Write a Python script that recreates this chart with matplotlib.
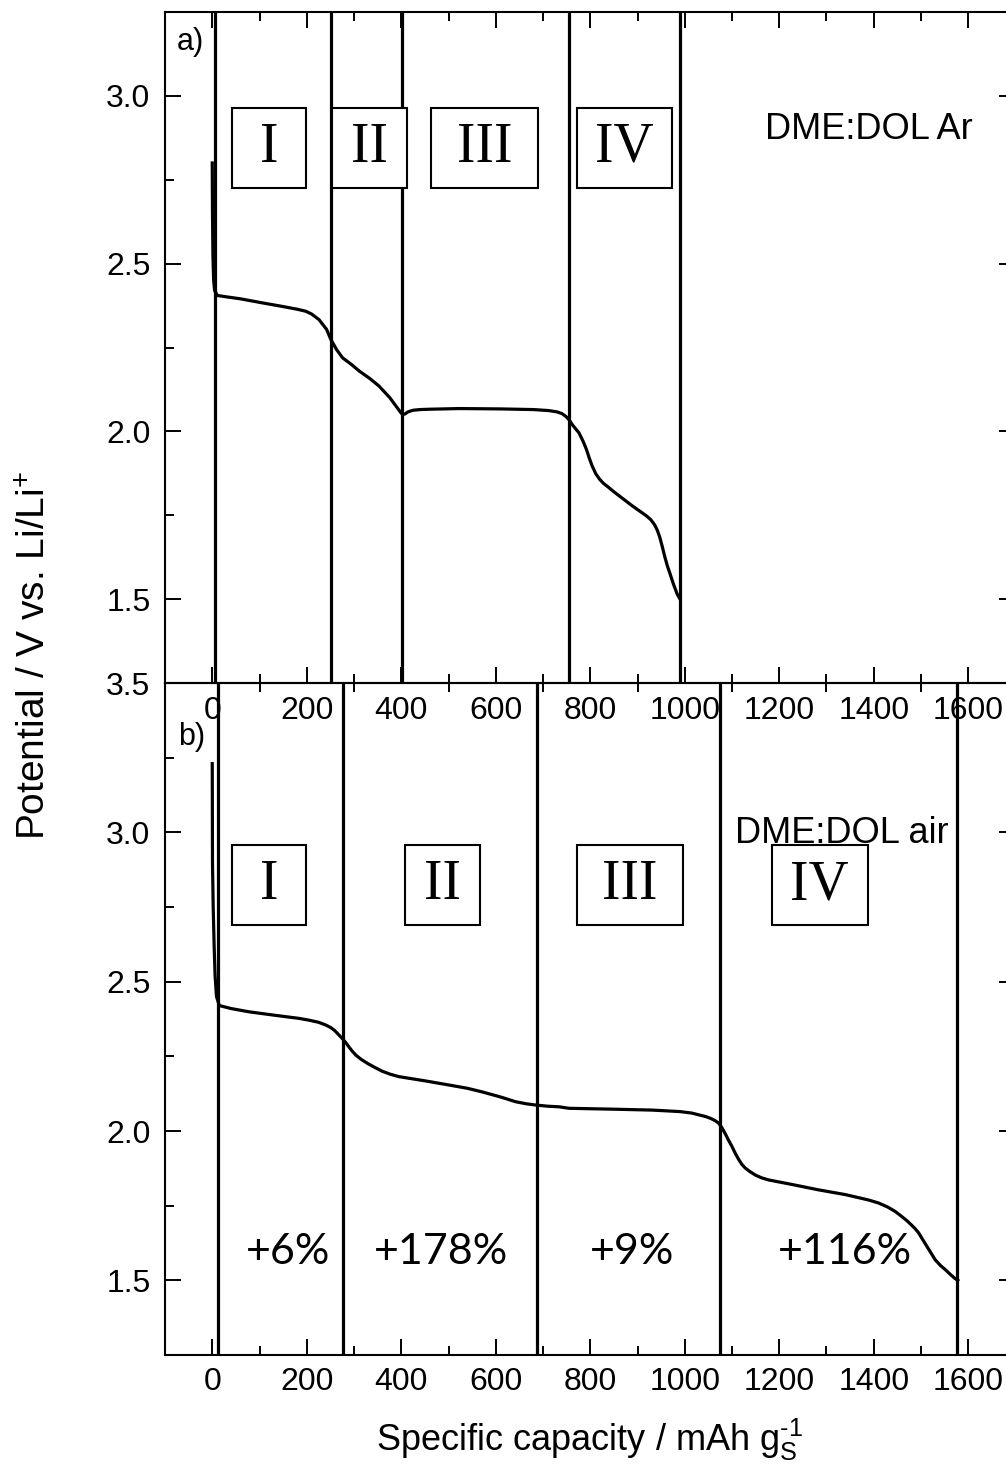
import matplotlib
matplotlib.use("Agg")
import matplotlib.pyplot as plt
from matplotlib.ticker import MultipleLocator, FormatStrFormatter
from matplotlib.patches import Rectangle

# Discharge curve, DME:DOL under Ar (capacity in mAh/g, potential in V)
cap_ar = [0, 0.5, 1.5, 3, 5, 11, 30, 60, 106, 150, 180, 198, 210, 226, 242, 251,
          263, 276, 295, 311, 334, 353, 376, 399, 403, 408, 414, 425, 440, 459,
          522, 607, 680, 712, 730, 740, 748, 755, 762, 770, 776, 785, 792, 798,
          804, 812, 820, 828, 838, 850, 862, 875, 889, 905, 919, 928, 936, 942,
          947, 952, 958, 963, 969, 976, 984, 990]
pot_ar = [2.80, 2.65, 2.52, 2.45, 2.42, 2.405, 2.401, 2.395, 2.383, 2.372, 2.364,
          2.358, 2.350, 2.333, 2.304, 2.274, 2.244, 2.219, 2.199, 2.180, 2.157,
          2.135, 2.100, 2.056, 2.050, 2.052, 2.058, 2.063, 2.065, 2.066, 2.068,
          2.067, 2.065, 2.062, 2.058, 2.053, 2.045, 2.035, 2.020, 2.006, 1.996,
          1.970, 1.946, 1.920, 1.897, 1.873, 1.857, 1.845, 1.834, 1.820, 1.807,
          1.793, 1.778, 1.762, 1.748, 1.737, 1.722, 1.705, 1.685, 1.659, 1.625,
          1.600, 1.575, 1.545, 1.515, 1.500]

# Discharge curve, DME:DOL under air
cap_air = [0, 0.5, 2, 4, 6, 9, 15, 40, 78, 130, 184, 205, 225, 240, 250, 258, 266,
           275, 283, 290, 297, 304, 315, 330, 345, 360, 377, 395, 450, 501, 540,
           571, 610, 642, 665, 684, 710, 734, 755, 850, 931, 990, 1015, 1030, 1045,
           1055, 1064, 1072, 1079, 1086, 1093, 1100, 1107, 1114, 1121, 1128, 1138,
           1150, 1163, 1178, 1230, 1283, 1340, 1389, 1410, 1430, 1446, 1459, 1470,
           1478, 1487, 1495, 1503, 1512, 1521, 1530, 1541, 1552, 1562, 1572, 1578]
pot_air = [3.23, 2.90, 2.75, 2.62, 2.52, 2.45, 2.42, 2.41, 2.399, 2.388, 2.377,
           2.371, 2.364, 2.355, 2.347, 2.338, 2.325, 2.310, 2.295, 2.280, 2.266,
           2.254, 2.240, 2.225, 2.212, 2.200, 2.190, 2.182, 2.168, 2.154, 2.143,
           2.131, 2.114, 2.098, 2.091, 2.087, 2.083, 2.081, 2.076, 2.073, 2.070,
           2.065, 2.060, 2.054, 2.048, 2.042, 2.035, 2.026, 2.010, 1.990, 1.968,
           1.948, 1.925, 1.905, 1.888, 1.876, 1.864, 1.852, 1.843, 1.836, 1.820,
           1.803, 1.787, 1.769, 1.759, 1.745, 1.730, 1.714, 1.700, 1.688, 1.674,
           1.659, 1.638, 1.615, 1.592, 1.569, 1.550, 1.535, 1.520, 1.506, 1.500]

# Region boundaries (mAh/g)
bounds_ar = [5, 252, 402, 756, 990]
bounds_air = [12, 276, 688, 1074, 1577]

regions = ["I", "II", "III", "IV"]
# Region label boxes: (x_left, x_right) in capacity units
boxes_ar = [(42, 198), (253, 412), (463, 690), (772, 973)]
boxes_air = [(42, 198), (408, 567), (772, 996), (1184, 1387)]

# Capacity gain of each region under air relative to Ar
gains = ["+6%", "+178%", "+9%", "+116%"]
gain_x = [160, 484, 888, 1340]

x_ticks = [0, 200, 400, 600, 800, 1000, 1200, 1400, 1600]
y_ticks_ar = [1.5, 2.0, 2.5, 3.0]
y_ticks_air = [1.5, 2.0, 2.5, 3.0, 3.5]

SANS = "Liberation Sans"
W, H = 1006, 1464
fig = plt.figure(figsize=(W / 100, H / 100), dpi=100)
fig.patch.set_facecolor("white")

left = 165 / W
width = (1015.5 - 165) / W
ax1 = fig.add_axes([left, 1 - 683 / H, width, (683 - 12) / H])
ax2 = fig.add_axes([left, 1 - 1355 / H, width, (1355 - 683) / H])
ax2.patch.set_alpha(0)

LW = 2.3

def style(ax, yt, ylim, top_major=True):
    ax.set_xlim(-100, 1700)
    ax.set_ylim(*ylim)
    ax.set_xticks(x_ticks)
    ax.set_xticklabels([str(v) for v in x_ticks])
    ax.xaxis.set_minor_locator(MultipleLocator(100))
    ax.set_yticks(yt)
    ax.yaxis.set_major_formatter(FormatStrFormatter("%.1f"))
    ax.yaxis.set_minor_locator(MultipleLocator(0.25))
    ax.tick_params(which="both", direction="in", top=True, right=True,
                   width=1.4, labelsize=23, labelfontfamily=SANS, colors="black")
    ax.tick_params(which="major", length=11.5)
    ax.tick_params(which="minor", length=6.5)
    ax.tick_params(axis="y", which="major", pad=10.5)
    ax.tick_params(axis="x", which="major", pad=9)
    if not top_major:
        ax.tick_params(axis="x", which="major", top=False)
    for s in ax.spines.values():
        s.set_linewidth(1.5)

style(ax1, y_ticks_ar, (1.25, 3.25))
style(ax2, y_ticks_air, (1.25, 3.5), top_major=False)

ax1.plot(cap_ar, pot_ar, color="black", lw=LW, solid_joinstyle="round", zorder=3)
ax2.plot(cap_air, pot_air, color="black", lw=LW, solid_joinstyle="round", zorder=3)

for b in bounds_ar:
    ax1.axvline(b, color="black", lw=LW, zorder=2)
for b in bounds_air:
    ax2.axvline(b, color="black", lw=LW, zorder=2)

def draw_boxes(ax, boxes, y0, y1):
    for lab, (xa, xb) in zip(regions, boxes):
        ax.add_patch(Rectangle((xa, y0), xb - xa, y1 - y0, fill=True,
                               facecolor="white", edgecolor="black", lw=1.5, zorder=4))
        ax.text((xa + xb) / 2, (y0 + y1) / 2, lab, ha="center", va="center",
                fontsize=40, family="Liberation Serif", zorder=5)

draw_boxes(ax1, boxes_ar, 2.726, 2.964)
draw_boxes(ax2, boxes_air, 2.689, 2.956)

for g, gx in zip(gains, gain_x):
    ax2.text(gx, 1.594, g, ha="center", va="center", fontsize=31, family="Lato", zorder=5)

ax1.text(1170, 2.90, "DME:DOL Ar", ha="left", va="center", fontsize=26, family=SANS)
ax2.text(1106, 2.997, "DME:DOL air", ha="left", va="center", fontsize=26, family=SANS)

ax1.text(-46, 3.16, "a)", ha="center", va="center", fontsize=22, family=SANS)
ax2.text(-44, 3.32, "b)", ha="center", va="center", fontsize=22, family=SANS)

fig.text(590 / W, 1 - 1440 / H,
         "Specific capacity / mAh g$_\\mathregular{S}^\\mathregular{\u2010 1}$",
         ha="center", va="center", fontsize=26, family=SANS)
fig.text(35 / W, 1 - 655 / H, r"Potential / V vs. Li/Li$^\mathregular{+}$",
         ha="center", va="center", rotation=90, fontsize=28, family=SANS)

fig.savefig("out.png", dpi=100, facecolor="white")
